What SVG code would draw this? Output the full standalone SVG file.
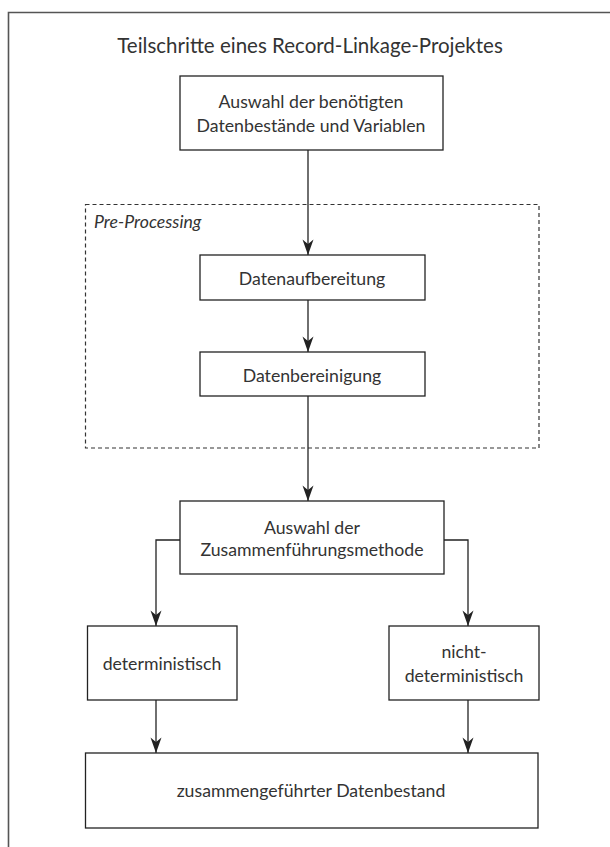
<svg xmlns="http://www.w3.org/2000/svg" width="610" height="847" viewBox="0 0 610 847">
<defs>
<style>
.box{fill:#fff;stroke:#222;stroke-width:1.3}
.t{font-family:Lato,"Liberation Sans",sans-serif;font-size:17.7px;fill:#333;text-anchor:middle}
.c{fill:none;stroke:#222;stroke-width:1.3}
</style>
<marker id="ah" viewBox="0 0 16 12" refX="16" refY="6" markerWidth="16" markerHeight="12" markerUnits="userSpaceOnUse" orient="auto">
<path d="M16,6 L0.5,0.5 Q3.5,4 5,6 Q3.5,8 0.5,11.5 Z" fill="#222"/>
</marker>
</defs>
<rect width="610" height="847" fill="#fff"/>
<path d="M8.5,860 L8.5,12.5 L620,12.5" fill="none" stroke="#555" stroke-width="1.6"/>
<text x="310" y="53" class="t" style="font-size:20.5px">Teilschritte eines Record-Linkage-Projektes</text>
<g id="preprocessing">
<rect x="85.5" y="204.5" width="453.5" height="243.5" fill="none" stroke="#333" stroke-width="1.2" stroke-dasharray="4 3"/>
<text x="94" y="228" class="t" style="font-style:italic;text-anchor:start">Pre-Processing</text>
</g>
<g id="connectors">
<line x1="308" y1="150" x2="308" y2="255" class="c" marker-end="url(#ah)"/>
<line x1="308" y1="300" x2="308" y2="352" class="c" marker-end="url(#ah)"/>
<line x1="308" y1="396" x2="308" y2="501" class="c" marker-end="url(#ah)"/>
<polyline points="180,540 156,540 156,626" class="c" marker-end="url(#ah)"/>
<polyline points="444,540 468,540 468,626" class="c" marker-end="url(#ah)"/>
<line x1="156" y1="700" x2="156" y2="753" class="c" marker-end="url(#ah)"/>
<line x1="468" y1="700" x2="468" y2="753" class="c" marker-end="url(#ah)"/>
</g>
<g id="n1">
<rect x="180" y="76" width="263" height="74" class="box"/>
<text x="311" y="108" class="t">Auswahl der benötigten</text>
<text x="311" y="132" class="t">Datenbestände und Variablen</text>
</g>
<g id="n2">
<rect x="200" y="255" width="225" height="45" class="box"/>
<text x="312" y="285" class="t">Datenaufbereitung</text>
</g>
<g id="n3">
<rect x="200" y="352" width="225" height="44" class="box"/>
<text x="312" y="382" class="t">Datenbereinigung</text>
</g>
<g id="n4">
<rect x="180" y="501" width="264" height="73" class="box"/>
<text x="312" y="534" class="t">Auswahl der</text>
<text x="312" y="556" class="t">Zusammenführungsmethode</text>
</g>
<g id="n5">
<rect x="87.5" y="626" width="149.5" height="74" class="box"/>
<text x="162" y="670" class="t">deterministisch</text>
</g>
<g id="n6">
<rect x="389" y="626" width="150" height="74" class="box"/>
<text x="464" y="658" class="t">nicht-</text>
<text x="464" y="682" class="t">deterministisch</text>
</g>
<g id="n7">
<rect x="85.5" y="753" width="452.5" height="75" class="box"/>
<text x="311" y="797" class="t">zusammengeführter Datenbestand</text>
</g>
</svg>
